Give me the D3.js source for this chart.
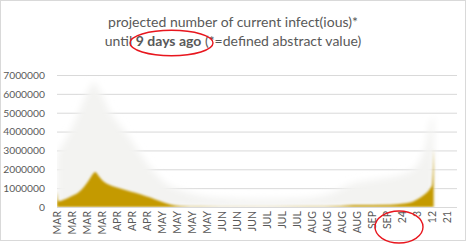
<!DOCTYPE html>
<html>
<head>
<meta charset="utf-8">
<script src="https://cdn.jsdelivr.net/npm/d3@7"></script>
<style>
body { margin: 0; background: #fff; }
text { font-family: Lato, "Liberation Sans", sans-serif; fill: #595959; }
</style>
</head>
<body>
<div id="chart-container"></div>
<script>
// sizes
const width = 467;
const height = 245;
const plot_left = 57, plot_right = 457, plot_top = 75, plot_bottom = 207;

// x axis: days since 1 March, one label every 9 days
const tick_days = [0, 9, 18, 27, 36, 45, 54, 63, 72, 81, 90, 99, 108, 117, 126, 135, 144, 153, 162, 171, 180, 189, 198, 207, 216, 225, 234];
const tick_labels = ['MAR', 'MAR', 'MAR', 'MAR', 'APR', 'APR', 'APR', 'MAY', 'MAY', 'MAY', 'MAY', 'JUN', 'JUN', 'JUN',
                     'JUL', 'JUL', 'JUL', 'AUG', 'AUG', 'AUG', 'AUG', 'SEP', 'SEP', '24', '3', '12', '21'];
const y_ticks = [0, 1000000, 2000000, 3000000, 4000000, 5000000, 6000000, 7000000];

// projected value (gold)
const gold_days = [0, 1, 4, 8, 13, 16, 19, 22, 23, 25, 28, 32, 38, 44, 50, 56, 62, 68, 74, 86, 110, 150, 170, 178, 200, 208, 214, 218, 221, 224, 225, 226];
const gold_vals = [850000, 300000, 380000, 550000, 780000, 1050000, 1400000, 1800000, 1850000, 1650000, 1350000, 1150000, 980000, 820000, 680000, 500000,
                   300000, 130000, 50000, 20000, 10000, 20000, 50000, 100000, 120000, 180000, 300000, 500000, 700000, 1000000, 1150000, 3100000];

// upper (fuzzy) band
const glow_days = [0, 8, 14, 19, 22, 26, 32, 38, 44, 50, 56, 62, 68, 74, 86, 104, 122, 146, 164, 176, 194, 206, 214, 218, 221, 224, 226];
const glow_vals = [2800000, 4000000, 5200000, 6200000, 6600000, 6100000, 5000000, 4300000, 3600000, 2800000, 2100000, 1500000, 1100000, 900000,
                   600000, 450000, 400000, 450000, 700000, 1200000, 1500000, 1700000, 2000000, 2500000, 3200000, 4500000, 4800000];

const gold = gold_days.map((d, i) => ({day: d, v: gold_vals[i]}));
const glow = glow_days.map((d, i) => ({day: d, v: glow_vals[i]}));

var svg = d3.select('#chart-container')
    .append('svg')
    .attr('width', width)
    .attr('height', height);

// chart frame
svg.append('rect')
    .attr('x', 0.5).attr('y', 0.5)
    .attr('width', width - 2).attr('height', 240)
    .attr('fill', '#fff')
    .attr('stroke', '#d9d9d9');

var x_scale = d3.scaleLinear().domain([0, 240]).range([plot_left, plot_right]);
var y_scale = d3.scaleLinear().domain([0, 7000000]).range([plot_bottom, plot_top]);

// gridlines
svg.append('g')
    .attr('transform', `translate(${plot_left}, 0)`)
    .call(d3.axisLeft(y_scale).tickValues(y_ticks).tickSize(-(plot_right - plot_left)).tickFormat(''))
    .call(g => g.select('.domain').remove())
    .selectAll('line')
    .attr('stroke', '#d9d9d9');

// y labels
svg.append('g')
    .attr('transform', `translate(45, 0)`)
    .call(d3.axisLeft(y_scale).tickValues(y_ticks).tickSize(0).tickPadding(0).tickFormat(d3.format('d')))
    .call(g => g.select('.domain').remove())
    .selectAll('text')
    .attr('font-size', 10.3)
    .attr('font-family', 'Lato, "Liberation Sans", sans-serif')
    .attr('fill', '#595959');

// filters and clip
const defs = svg.append('defs');
defs.append('filter').attr('id', 'glow_blur').attr('x', '-20%').attr('y', '-20%').attr('width', '140%').attr('height', '140%')
    .append('feGaussianBlur').attr('stdDeviation', 3.5);
defs.append('filter').attr('id', 'gold_blur').attr('x', '-20%').attr('y', '-20%').attr('width', '140%').attr('height', '140%')
    .append('feGaussianBlur').attr('stdDeviation', 1.1);
defs.append('clipPath').attr('id', 'plot_clip')
    .append('rect')
    .attr('x', plot_left).attr('y', 20)
    .attr('width', plot_right - plot_left).attr('height', plot_bottom - 20);

const area = d3.area()
    .x(d => x_scale(d.day))
    .y0(y_scale(0))
    .y1(d => y_scale(d.v))
    .curve(d3.curveMonotoneX);

const layers = svg.append('g').attr('clip-path', 'url(#plot_clip)');

layers.append('path')
    .datum(glow)
    .attr('d', area)
    .attr('fill', '#f3f3f1')
    .attr('filter', 'url(#glow_blur)');

layers.append('path')
    .datum(gold)
    .attr('d', area)
    .attr('fill', '#c49a00')
    .attr('filter', 'url(#gold_blur)');

// baseline
svg.append('line')
    .attr('x1', plot_left).attr('x2', plot_right)
    .attr('y1', y_scale(0) + 0.5).attr('y2', y_scale(0) + 0.5)
    .attr('stroke', '#d9d9d9');

// x labels, rotated
svg.append('g')
    .attr('transform', `translate(0, ${plot_bottom})`)
    .call(d3.axisBottom(x_scale).tickValues(tick_days).tickSize(0).tickPadding(0).tickFormat((d, i) => tick_labels[i]))
    .call(g => g.select('.domain').remove())
    .selectAll('text')
    .attr('font-size', 10.5)
    .attr('font-family', 'Lato, "Liberation Sans", sans-serif')
    .attr('fill', '#595959')
    .attr('text-anchor', 'end')
    .attr('transform', 'rotate(-90)')
    .attr('x', -4)
    .attr('y', 0)
    .attr('dy', '0.35em');

// title
const title = svg.append('g').attr('id', 'title');
title.append('text')
    .attr('x', 233).attr('y', 27)
    .attr('text-anchor', 'middle')
    .attr('font-size', 14)
    .text('projected number of current infect(ious)*');
const line2 = title.append('text')
    .attr('x', 233).attr('y', 46)
    .attr('text-anchor', 'middle')
    .attr('font-size', 14);
line2.append('tspan').text('until ');
line2.append('tspan').attr('font-weight', 'bold').text('9 days ago');
line2.append('tspan').text(' (*=defined abstract value)');

// red hand-drawn circles
svg.append('ellipse')
    .attr('cx', 171.5).attr('cy', 43).attr('rx', 41.5).attr('ry', 12.7)
    .attr('fill', 'none').attr('stroke', '#e8161e').attr('stroke-width', 1.4);
svg.append('ellipse')
    .attr('cx', 399).attr('cy', 227).attr('rx', 24).attr('ry', 16)
    .attr('fill', 'none').attr('stroke', '#e8161e').attr('stroke-width', 1.4);
</script>
</body>
</html>
